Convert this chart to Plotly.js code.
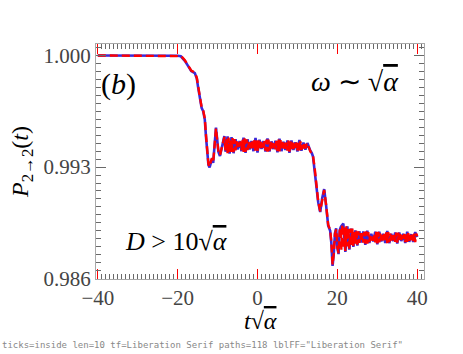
<!DOCTYPE html>
<html>
<head>
<meta charset="utf-8">
<script src="https://cdn.plot.ly/plotly-3.0.1.min.js"></script>
</head>
<body style="margin:0">
<div id="chart"></div>
<div id="dbg" style="position:absolute;left:2px;top:340px;font:9px monospace;color:#888;white-space:nowrap"></div>
<script>
// time axis t*sqrt(alpha) and survival probability P_{2->2}(t)
const tRed = [
  -40, -30, -22, -20, -19.2, -18.7, -18.2, -17.4, -16.6, -15.7, -15.2, -14.9, -14.4, -14.0, -13.6, -13.2,
  -12.9, -12.6, -12.3, -12.08, -11.7, -11.4, -11.1, -10.9, -10.65, -10.4, -10.1, -9.8, -9.4, -9.0, -8.6, -8.3, -8.0,
  -7.75, -7.5, -7.25, -7.0, -6.75, -6.5, -6.25, -6.0, -5.75, -5.5, -5.25, -5.0, -4.75, -4.5, -4.25, -4.0,
  -3.75, -3.5, -3.25, -3.0, -2.75, -2.5, -2.25, -2.0, -1.75, -1.5, -1.25, -1.0, -0.75, -0.5, -0.25, 0.0,
  0.25, 0.5, 0.75, 1.0, 1.25, 1.5, 1.75, 2.0, 2.25, 2.5, 2.75, 3.0, 3.25, 3.5, 3.75, 4.0,
  4.25, 4.5, 4.75, 5.0, 5.25, 5.5, 5.75, 6.0, 6.25, 6.5, 6.75, 7.0, 7.25, 7.5, 7.75, 8.0,
  8.25, 8.5, 8.75, 9.0, 9.25, 9.5, 9.75, 10.0, 10.25, 10.5, 10.75, 11.0, 11.25, 11.5, 11.75, 12.0,
  12.25, 12.5, 12.75,
  13.2, 13.6, 13.9, 14.3, 14.6, 15.2, 15.7, 16.2, 16.7, 17.2, 17.7, 18.2, 18.5, 18.8, 19.1, 19.4, 19.7,
  20.0, 20.3, 20.6, 20.9,
  21.0, 21.25, 21.5, 21.75, 22.0, 22.25, 22.5, 22.75, 23.0, 23.25, 23.5, 23.75, 24.0, 24.25, 24.5, 24.75,
  25.0, 25.25, 25.5, 25.75, 26.0, 26.25, 26.5, 26.75, 27.0, 27.25, 27.5, 27.75, 28.0, 28.25, 28.5, 28.75,
  29.0, 29.25, 29.5, 29.75, 30.0, 30.25, 30.5, 30.75, 31.0, 31.25, 31.5, 31.75, 32.0, 32.25, 32.5, 32.75,
  33.0, 33.25, 33.5, 33.75, 34.0, 34.25, 34.5, 34.75, 35.0, 35.25, 35.5, 35.75, 36.0, 36.25, 36.5, 36.75,
  37.0, 37.25, 37.5, 37.75, 38.0, 38.25, 38.5, 38.75, 39.0, 39.25, 39.5, 39.75, 40.0
];
const pRed = [
  1.00000, 1.00000, 1.00000, 0.99998, 0.99996, 0.99985, 0.99970, 0.99938, 0.99905, 0.99893, 0.99860, 0.99813, 0.99720, 0.99677, 0.99655, 0.99606,
  0.99500, 0.99400, 0.99320, 0.99302, 0.99340, 0.99356, 0.99330, 0.99380, 0.99480, 0.99544, 0.99470, 0.99400, 0.99375, 0.99420, 0.99470, 0.99489, 0.99400,
  0.99485, 0.99387, 0.99485, 0.99392, 0.99479, 0.99394, 0.99482, 0.99394, 0.99475, 0.99405, 0.99463, 0.99416, 0.99455, 0.99418, 0.99461, 0.99407,
  0.99474, 0.99395, 0.99480, 0.99395, 0.99474, 0.99407, 0.99461, 0.99418, 0.99455, 0.99418, 0.99461, 0.99407, 0.99474, 0.99397, 0.99479, 0.99397,
  0.99472, 0.99408, 0.99459, 0.99419, 0.99453, 0.99418, 0.99463, 0.99403, 0.99472, 0.99397, 0.99472, 0.99403, 0.99461, 0.99416, 0.99451, 0.99419,
  0.99454, 0.99411, 0.99465, 0.99400, 0.99472, 0.99398, 0.99469, 0.99406, 0.99457, 0.99417, 0.99451, 0.99414, 0.99454, 0.99403, 0.99466, 0.99397,
  0.99466, 0.99403, 0.99454, 0.99414, 0.99448, 0.99414, 0.99454, 0.99405, 0.99462, 0.99400, 0.99461, 0.99408, 0.99451, 0.99416, 0.99448, 0.99416,
  0.99446, 0.99420, 0.99430,
  0.99400, 0.99385, 0.99370, 0.99300, 0.99219, 0.99085, 0.99023, 0.99100, 0.99156, 0.99060, 0.98938, 0.98906, 0.98830, 0.98688, 0.98760, 0.98880, 0.98910,
  0.98800, 0.98760, 0.98900, 0.98920,
  0.98781, 0.98942, 0.98788, 0.98921, 0.98774, 0.98928, 0.98802, 0.98921, 0.98788, 0.98914, 0.98809, 0.98914, 0.98805, 0.98903, 0.98819, 0.98900,
  0.98813, 0.98897, 0.98824, 0.98886, 0.98833, 0.98886, 0.98826, 0.98894, 0.98819, 0.98897, 0.98820, 0.98892, 0.98830, 0.98880, 0.98840, 0.98875,
  0.98838, 0.98883, 0.98827, 0.98893, 0.98822, 0.98893, 0.98827, 0.98883, 0.98838, 0.98875, 0.98840, 0.98880, 0.98830, 0.98890, 0.98823, 0.98892,
  0.98829, 0.98882, 0.98840, 0.98873, 0.98841, 0.98879, 0.98831, 0.98889, 0.98826, 0.98889, 0.98831, 0.98879, 0.98841, 0.98873, 0.98840, 0.98880,
  0.98830, 0.98889, 0.98827, 0.98885, 0.98837, 0.98875, 0.98843, 0.98876, 0.98836, 0.98885, 0.98830, 0.98883, 0.98866
];

const tBlue = [
  -40, -30, -22, -20, -19.2, -18.7, -18.2, -17.4, -16.6, -15.7, -15.2, -14.9, -14.4, -14.0, -13.6, -13.2,
  -12.9, -12.6, -12.3, -12.0, -11.7, -11.4, -11.1, -10.9, -10.6, -10.4, -10.1, -9.8, -9.4, -9.0, -8.6, -8.3, -8.0,
  -7.5, -7.0, -6.5, -6.0, -5.5, -5.0, -4.5, -4.0, -3.5, -3.0, -2.5, -2.0, -1.5, -1.0, -0.5, 0.0,
  0.5, 1.0, 1.5, 2.0, 2.5, 3.0, 3.5, 4.0, 4.5, 5.0, 5.5, 6.0, 6.5, 7.0, 7.5, 8.0,
  8.5, 9.0, 9.5, 10.0, 10.5, 11.0, 11.5, 12.0, 12.5,
  13.2, 13.6, 13.9, 14.3, 14.6, 15.2, 15.7, 16.2, 16.7, 17.2, 17.7, 18.2, 18.5, 18.8, 19.1, 19.4, 19.7,
  20.0, 20.3, 20.6, 20.9,
  21.5, 22.0, 22.5, 23.0, 23.5, 24.0, 24.5, 25.0, 25.5, 26.0, 26.5, 27.0, 27.5, 28.0, 28.5, 29.0,
  29.5, 30.0, 30.5, 31.0, 31.5, 32.0, 32.5, 33.0, 33.5, 34.0, 34.5, 35.0, 35.5, 36.0, 36.5, 37.0,
  37.5, 38.0, 38.5, 39.0, 39.5, 40.0
];
const pBlue = [
  1.00000, 1.00000, 1.00000, 0.99998, 0.99995, 0.99983, 0.99966, 0.99935, 0.99903, 0.99890, 0.99855, 0.99805, 0.99715, 0.99672, 0.99650, 0.99598,
  0.99490, 0.99392, 0.99315, 0.99298, 0.99336, 0.99352, 0.99326, 0.99376, 0.99485, 0.99548, 0.99474, 0.99396, 0.99370, 0.99424, 0.99474, 0.99495, 0.99396,
  0.99493, 0.99385, 0.99487, 0.99387, 0.99475, 0.99410, 0.99463, 0.99400, 0.99485, 0.99389, 0.99474, 0.99411, 0.99463, 0.99400, 0.99483, 0.99391,
  0.99472, 0.99413, 0.99463, 0.99397, 0.99480, 0.99397, 0.99461, 0.99413, 0.99465, 0.99393, 0.99478, 0.99400, 0.99459, 0.99408, 0.99467, 0.99390,
  0.99467, 0.99408, 0.99456, 0.99398, 0.99470, 0.99402, 0.99454, 0.99410, 0.99451,
  0.99404, 0.99388, 0.99366, 0.99295, 0.99212, 0.99080, 0.99018, 0.99105, 0.99162, 0.99055, 0.98932, 0.98900, 0.98822, 0.98680, 0.98755, 0.98886, 0.98916,
  0.98794, 0.98754, 0.98906, 0.98926,
  0.98945, 0.98768, 0.98928, 0.98782, 0.98914, 0.98799, 0.98903, 0.98808, 0.98897, 0.98827, 0.98896, 0.98813, 0.98901, 0.98824, 0.98882, 0.98833,
  0.98894, 0.98816, 0.98894, 0.98833, 0.98882, 0.98824, 0.98899, 0.98823, 0.98882, 0.98836, 0.98890, 0.98820, 0.98890, 0.98836, 0.98882, 0.98824,
  0.98894, 0.98831, 0.98879, 0.98830, 0.98892, 0.98862
];

const xTicks = [-40, -20, 0, 20, 40];
const yTicks = [0.986, 0.993, 1.000];
const yTickText = ['0.986', '0.993', '1.000'];

const traces = [
  { x: tBlue, y: pBlue, mode: 'lines', showlegend: false, line: { color: 'rgb(60,40,215)', width: 2.6 } },
  { x: tRed, y: pRed, mode: 'lines', showlegend: false, line: { color: 'red', width: 2.4, dash: '8px,4px' } }
];

const chartLayout = {
  width: 463, height: 354,
  margin: { l: 96, r: 39, t: 44, b: 75 },
  font: { family: 'Liberation Serif' },
  xaxis: {
    range: [-40.45, 41.7],
    showgrid: false, zeroline: false,
    ticks: 'inside', ticklen: 10, tickcolor: 'red', tickwidth: 1,
    showline: true, linecolor: 'darkgray', mirror: 'ticks',
    tickvals: xTicks,
    minor: { dtick: 1, ticks: 'inside', ticklen: 5, tickcolor: 'dimgray' },
    tickfont: { family: 'Liberation Serif', size: 21 }
  },
  yaxis: {
    range: [0.98598, 1.00072],
    showgrid: false, zeroline: false,
    ticks: 'inside', ticklen: 10, tickcolor: 'dimgray', tickwidth: 1,
    showline: true, linecolor: 'darkgray', mirror: 'ticks',
    tickvals: yTicks, ticktext: yTickText,
    minor: { dtick: 0.0005, ticks: 'inside', ticklen: 5, tickcolor: 'dimgray' },
    tickfont: { family: 'Liberation Serif', size: 21 },
    title: { text: '<i>P</i><sub>2→2</sub>(<i>t</i>)', font: { family: 'Liberation Serif', size: 24, color: 'black' }, standoff: 8 }
  },
  annotations: [
    { xref: 'paper', yref: 'paper', x: 0.5, y: -0.18, xanchor: 'center', yanchor: 'middle', showarrow: false,
      text: '<i>t</i>√<span style="text-decoration:overline"><i>α</i></span>', font: { family: 'Liberation Serif', size: 24, color: 'black' } },
    { xref: 'paper', yref: 'paper', x: 0.07, y: 0.83, xanchor: 'center', yanchor: 'middle', showarrow: false,
      text: '(<i>b</i>)', font: { family: 'Liberation Serif', size: 30, color: 'black' } },
    { xref: 'paper', yref: 'paper', x: 0.79, y: 0.84, xanchor: 'center', yanchor: 'middle', showarrow: false,
      text: '<i>ω</i> ∼ √<span style="text-decoration:overline"><i>α</i></span>', font: { family: 'Liberation Serif', size: 28, color: 'black' } },
    { xref: 'paper', yref: 'paper', x: 0.245, y: 0.16, xanchor: 'center', yanchor: 'middle', showarrow: false,
      text: '<i>D</i> > 10√<span style="text-decoration:overline"><i>α</i></span>', font: { family: 'Liberation Serif', size: 26, color: 'black' } }
  ]
};

function report() {
  const gd = document.getElementById('chart');
  const fx = gd._fullLayout ? gd._fullLayout.xaxis : {};
  const lab = document.querySelector('.xtick text');
  const info = [
    'ticks=' + fx.ticks, 'len=' + fx.ticklen, 'tf=' + (fx.tickfont && fx.tickfont.family),
    'paths=' + document.querySelectorAll('path.xtick,path.ytick').length,
    'lblFF=' + (lab ? lab.style.fontFamily : 'none')
  ];
  document.getElementById('dbg').textContent = info.join(' ');
}

Plotly.newPlot('chart', traces, chartLayout, { displayModeBar: false })
  .then(report)
  .catch(function(e) { document.getElementById('dbg').textContent = 'ERR ' + e; });
</script>
</body>
</html>
